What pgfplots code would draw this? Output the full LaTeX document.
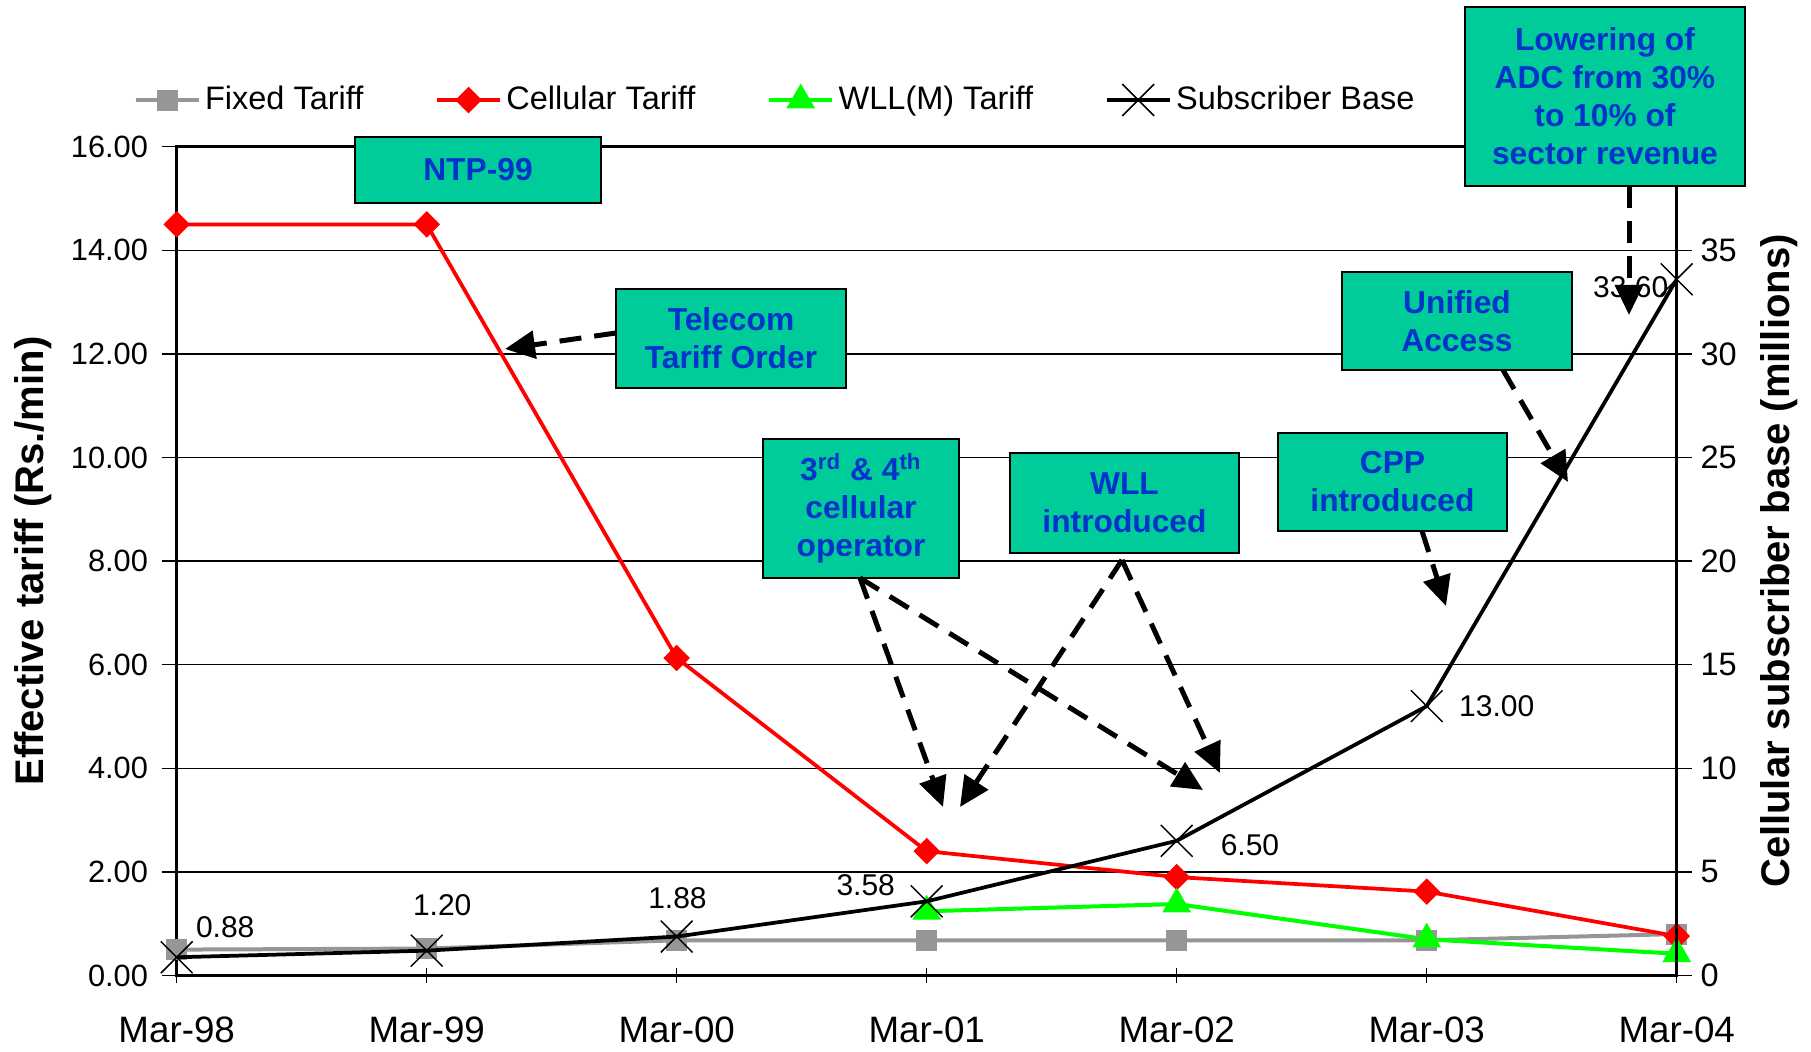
\documentclass[border=0pt]{standalone}
\usepackage{pgfplots}
\usepackage{pgfplotstable}
\pgfplotsset{compat=1.18}
\usepackage{fontspec}
\setmainfont{Liberation Sans}
\usetikzlibrary{arrows.meta}
\definecolor{boxgreen}{RGB}{0,204,153}
\definecolor{boxblue}{RGB}{0,51,204}
\definecolor{fixgray}{RGB}{150,150,150}
\definecolor{wllgreen}{RGB}{0,255,0}

\pgfplotstableread{
x fixed cell wll
0 0.50 14.50 nan
1 0.52 14.50 nan
2 0.68 6.13 nan
3 0.68 2.40 1.24
4 0.68 1.90 1.38
5 0.68 1.62 0.70
6 0.80 0.76 0.42
}\tariffs

\pgfplotstableread{
x subs
0 0.88
1 1.20
2 1.88
3 3.58
4 6.50
5 13.00
6 33.60
}\subs

\pgfplotsset{
 fixstyle/.style={color=fixgray, line width=1.6pt, mark=square*, mark size=3.4pt},
 cellstyle/.style={color=red, line width=1.5pt, mark=square*, mark size=3pt, mark options={rotate=45}},
 wllstyle/.style={color=wllgreen, line width=1.6pt, mark=triangle*, mark size=5pt},
 subsstyle/.style={color=black, line width=1.5pt, mark=x, mark size=9pt, mark options={line width=0.6pt}},
 commonax/.style={
   at={(70.68pt,30.2pt)}, anchor=south west,
   width=600pt, height=331.52pt, scale only axis,
   xmin=0, xmax=6, clip=false,
   /pgf/number format/assume math mode=true,
   axis line style={line width=1.2pt},
   tick style={black, line width=0.6pt},
   major tick length=6pt,
 },
}

\tikzset{
 abox/.style={draw=black, line width=0.6pt, fill=boxgreen},
 atext/.style={text=boxblue, font=\bfseries\fontsize{12.7}{15.2}\selectfont, align=center, inner sep=0pt},
 arr/.style={-{Triangle[length=12pt,width=11pt]}, line width=2pt, dash pattern=on 8.8pt off 5.2pt},
 dlab/.style={font=\fontsize{12}{14}\selectfont, inner sep=0pt},
}

\begin{document}
\begin{tikzpicture}
\useasboundingbox (0,0) rectangle (724.4pt,420.4pt);

% ---------- tariff axis (left) ----------
\begin{axis}[commonax,
  ymin=0, ymax=16,
  xtick={0,...,6},
  xticklabels={Mar-98,Mar-99,Mar-00,Mar-01,Mar-02,Mar-03,Mar-04},
  ytick={0,2,...,16},
  tick pos=left,
  xtick align=center, ytick align=outside,
  ymajorgrids, grid style={black, line width=0.6pt},
  x tick label style={font=\fontsize{14.7}{16}\selectfont, inner sep=0pt, yshift=-13.2pt},
  y tick label style={/pgf/number format/.cd, fixed, fixed zerofill, precision=2, /tikz/.cd, font=\fontsize{12.3}{14}\selectfont, xshift=-2pt},
  ylabel={\bfseries Effective tariff (Rs./min)},
  ylabel style={at={(axis description cs:-0.096,0.5)}, anchor=center, font=\fontsize{16}{19}\selectfont},
]
\addplot[fixstyle] table[x=x, y=fixed] {\tariffs};
\addplot[cellstyle] table[x=x, y=cell] {\tariffs};
\addplot[wllstyle] table[x=x, y=wll] {\tariffs};
\end{axis}

% ---------- subscriber axis (right) ----------
\begin{axis}[commonax,
  ymin=0, ymax=40,
  axis y line*=right, axis x line=none,
  ytick={0,5,...,35},
  ytick align=outside,
  y tick label style={font=\fontsize{13}{15}\selectfont},
  ylabel={\bfseries Cellular subscriber base (millions)},
  ylabel style={at={(axis description cs:1.0682,0.5)}, anchor=center, font=\fontsize{16}{19}\selectfont},
  legend columns=4,
  legend style={draw=none, fill=none, inner sep=0pt,
    at={(axis description cs:-0.0291,1.0563)}, anchor=west,
    font=\fontsize{13}{15}\selectfont,
    nodes={inner sep=1.8pt},
    /tikz/every even column/.append style={column sep=26.9pt}},
  legend image code/.code={\draw[mark repeat=2,mark phase=2,#1] plot coordinates {(0pt,0pt) (12.6pt,0pt) (25.2pt,0pt)};},
]
\addlegendimage{fixstyle}
\addlegendentry{Fixed Tariff}
\addlegendimage{cellstyle}
\addlegendentry{Cellular Tariff}
\addlegendimage{wllstyle}
\addlegendentry{WLL(M) Tariff}
\addplot[subsstyle] table[x=x, y=subs] {\subs};
\addlegendentry{Subscriber Base}

\node[dlab] at (axis cs:0,0.88) [xshift=19.4pt, yshift=12pt] {0.88};
\node[dlab] at (axis cs:1,1.20) [xshift=6.2pt, yshift=18pt] {1.20};
\node[dlab] at (axis cs:2,1.88) [xshift=0.3pt, yshift=15.4pt] {1.88};
\node[dlab] at (axis cs:3,3.58) [xshift=-24.4pt, yshift=6.6pt] {3.58};
\node[dlab] at (axis cs:4,6.50) [xshift=29.3pt, yshift=-1.6pt] {6.50};
\node[dlab] at (axis cs:5,13.00) [xshift=28pt, yshift=0pt] {13.00};
\node[dlab] at (axis cs:6,33.60) [xshift=-18.4pt, yshift=-3.2pt] {33.60};
\end{axis}

% ---------- annotations (pixel grid of the reference) ----------
\begin{scope}[shift={(0pt,420.4pt)}, x=0.4pt, y=-0.4pt]
\draw[abox] (355,137) rectangle (601,203);
\node[atext] at (478,170) {NTP-99};

\draw[abox] (616,289) rectangle (846,388);
\node[atext] at (731,338.5) {Telecom\\Tariff Order};
\draw[arr] (616,333) -- (505,349);

\draw[abox] (763,439) rectangle (959,578);
\node[atext] at (861,508.5) {3\textsuperscript{rd} \& 4\textsuperscript{th}\\cellular\\operator};
\draw[arr] (860,578) -- (943,807);
\draw[arr] (860,578) -- (1203,790);

\draw[abox] (1010,453) rectangle (1239,553);
\node[atext] at (1124.5,503) {WLL\\introduced};
\draw[arr] (1122,560) -- (960,807);
\draw[arr] (1122,560) -- (1220,773);

\draw[abox] (1278,433) rectangle (1507,531);
\node[atext] at (1392.5,482) {CPP\\introduced};
\draw[arr] (1422,531) -- (1446,606);

\draw[abox] (1342,272) rectangle (1572,370);
\node[atext] at (1457,321) {Unified\\Access};
\draw[arr] (1503,370) -- (1568,482);

\draw[abox] (1465,7) rectangle (1745,186);
\node[atext] at (1605,96.5) {Lowering of\\ADC from 30\%\\to 10\% of\\sector revenue};
\draw[arr] (1629,186) -- (1629,315);
\end{scope}
\end{tikzpicture}
\end{document}
